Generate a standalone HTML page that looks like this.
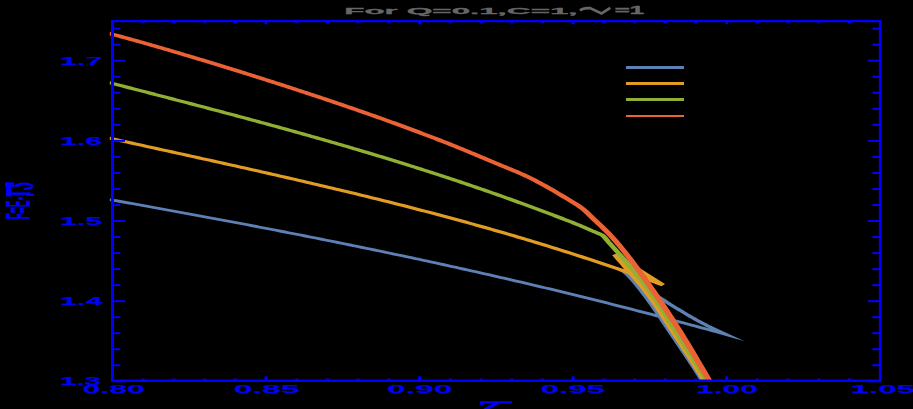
<!DOCTYPE html>
<html><head><meta charset="utf-8"><title>plot</title>
<style>
html,body{margin:0;padding:0;background:#000;}
body{width:913px;height:409px;overflow:hidden;font-family:"Liberation Sans",sans-serif;}
svg{display:block;}
</style></head>
<body>
<svg width="913" height="409" viewBox="0 0 913 409">
<rect width="913" height="409" fill="#000"/>
<defs><clipPath id="cp"><rect x="109.800" y="20" width="775.000" height="361.5"/></clipPath></defs>
<g clip-path="url(#cp)"><g transform="scale(1.780,1)">
<path d="M61.24 199.47 L63.53 200.19 L65.82 200.91 L68.11 201.64 L70.40 202.36 L72.69 203.09 L74.98 203.82 L77.27 204.55 L79.56 205.28 L81.85 206.01 L84.14 206.75 L86.43 207.48 L88.72 208.22 L91.01 208.96 L93.30 209.70 L95.59 210.44 L97.88 211.18 L100.18 211.93 L102.47 212.67 L104.76 213.42 L107.05 214.17 L109.34 214.92 L111.63 215.67 L113.92 216.43 L116.21 217.18 L118.50 217.94 L120.79 218.70 L123.08 219.46 L125.37 220.22 L127.66 220.99 L129.95 221.75 L132.24 222.52 L134.53 223.29 L136.82 224.06 L139.11 224.84 L141.41 225.61 L143.70 226.39 L145.99 227.17 L148.28 227.95 L150.57 228.74 L152.86 229.52 L155.15 230.31 L157.44 231.10 L159.73 231.89 L162.02 232.68 L164.31 233.48 L166.60 234.28 L168.89 235.08 L171.18 235.88 L173.47 236.69 L175.76 237.49 L178.05 238.30 L180.34 239.12 L182.64 239.93 L184.93 240.75 L187.22 241.56 L189.51 242.39 L191.80 243.21 L194.09 244.03 L196.38 244.86 L198.67 245.69 L200.96 246.53 L203.25 247.36 L205.54 248.20 L207.83 249.04 L210.12 249.88 L212.41 250.73 L214.70 251.58 L216.99 252.43 L219.28 253.28 L221.57 254.14 L223.87 255.00 L226.16 255.86 L228.45 256.73 L230.74 257.59 L233.03 258.46 L235.32 259.33 L237.61 260.21 L239.90 261.09 L242.19 261.97 L244.48 262.85 L246.77 263.74 L249.06 264.63 L251.35 265.52 L253.64 266.42 L255.93 267.32 L258.22 268.22 L260.51 269.12 L262.80 270.03 L265.10 270.94 L267.39 271.86 L269.68 272.77 L271.97 273.69 L274.26 274.62 L276.55 275.54 L278.84 276.47 L281.13 277.40 L283.42 278.34 L285.71 279.28 L288.00 280.22 L290.29 281.17 L292.58 282.12 L294.87 283.07 L297.16 284.02 L299.45 284.98 L301.74 285.94 L304.03 286.91 L306.32 287.88 L308.62 288.85 L310.91 289.83 L313.20 290.81 L315.49 291.79 L317.78 292.78 L320.07 293.77 L322.36 294.76 L324.65 295.76 L326.94 296.76 L329.23 297.77 L331.52 298.77 L333.81 299.79 L336.10 300.80 L338.39 301.82 L340.68 302.84 L342.97 303.87 L345.26 304.90 L347.55 305.94 L349.85 306.98 L352.14 308.02 L354.43 309.07 L356.72 310.12 L359.01 311.17 L361.30 312.23 L363.59 313.29 L365.88 314.35 L368.17 315.42 L370.46 316.50 L372.75 317.58 L375.04 318.67 L377.33 319.76 L379.62 320.85 L381.91 321.94 L384.20 323.04 L386.49 324.13 L388.78 325.22 L391.08 326.32 L393.37 327.41 L395.66 328.51 L397.95 329.60 L400.24 330.70 L402.53 331.80 L408.15 334.60 L402.53 330.00 L401.62 329.27 L400.72 328.53 L399.81 327.77 L398.91 327.00 L398.01 326.22 L397.10 325.43 L396.20 324.62 L395.29 323.80 L394.39 322.96 L393.48 322.11 L392.58 321.24 L391.67 320.36 L390.77 319.46 L389.86 318.54 L388.96 317.62 L388.05 316.69 L387.15 315.75 L386.25 314.81 L385.34 313.86 L384.44 312.89 L383.53 311.92 L382.63 310.95 L381.72 309.98 L380.82 309.02 L379.91 308.06 L379.01 307.08 L378.10 306.09 L377.20 305.09 L376.29 304.08 L375.39 303.07 L374.49 302.05 L373.58 301.01 L372.68 299.97 L371.77 298.91 L370.87 297.83 L369.96 296.75 L369.06 295.65 L368.15 294.54 L367.25 293.42 L366.34 292.29 L365.44 291.15 L364.54 289.99 L363.63 288.80 L362.73 287.61 L361.82 286.39 L360.92 285.17 L360.01 283.95 L359.11 282.72 L358.20 281.50 L357.30 280.29 L356.39 279.09 L355.49 277.89 L354.58 276.69 L353.68 275.49 L352.78 274.29 L351.87 273.09 L350.97 271.89 L350.06 270.70 L349.16 269.50 L350.55 271.58 L351.88 273.65 L353.11 275.73 L354.23 277.81 L355.30 279.88 L356.32 281.96 L357.30 284.03 L358.25 286.11 L359.18 288.19 L360.09 290.26 L361.00 292.34 L361.89 294.42 L362.76 296.49 L363.63 298.57 L364.47 300.64 L365.31 302.72 L366.14 304.80 L366.96 306.87 L367.76 308.95 L368.57 311.03 L369.36 313.10 L370.15 315.18 L370.94 317.25 L371.72 319.33 L372.50 321.41 L373.28 323.48 L374.06 325.56 L374.84 327.64 L375.63 329.71 L376.41 331.79 L377.21 333.86 L378.00 335.94 L378.79 338.02 L379.58 340.09 L380.37 342.17 L381.16 344.25 L381.95 346.32 L382.74 348.40 L383.53 350.47 L384.31 352.55 L385.09 354.63 L385.87 356.70 L386.64 358.78 L387.42 360.86 L388.18 362.93 L388.95 365.01 L389.71 367.08 L390.46 369.16 L391.21 371.24 L391.96 373.31 L392.70 375.39 L393.43 377.47 L394.16 379.54 L394.88 381.62 L395.58 383.69 L396.28 385.77 L396.96 387.85 L397.64 389.92 L398.31 392.00" fill="none" stroke="#5E81B5" stroke-width="2.70" stroke-linejoin="miter" stroke-miterlimit="20"/>
<path d="M61.24 138.08 L63.32 138.90 L65.41 139.72 L67.50 140.54 L69.59 141.36 L71.68 142.18 L73.77 143.00 L75.86 143.82 L77.95 144.64 L80.04 145.46 L82.12 146.28 L84.21 147.10 L86.30 147.92 L88.39 148.73 L90.48 149.55 L92.57 150.37 L94.66 151.19 L96.75 152.00 L98.83 152.82 L100.92 153.64 L103.01 154.45 L105.10 155.27 L107.19 156.09 L109.28 156.91 L111.37 157.73 L113.46 158.56 L115.55 159.38 L117.63 160.20 L119.72 161.02 L121.81 161.85 L123.90 162.67 L125.99 163.50 L128.08 164.32 L130.17 165.15 L132.26 165.98 L134.35 166.81 L136.43 167.64 L138.52 168.47 L140.61 169.31 L142.70 170.15 L144.79 170.98 L146.88 171.82 L148.97 172.66 L151.06 173.51 L153.14 174.35 L155.23 175.19 L157.32 176.04 L159.41 176.89 L161.50 177.74 L163.59 178.60 L165.68 179.45 L167.77 180.31 L169.86 181.17 L171.94 182.04 L174.03 182.90 L176.12 183.77 L178.21 184.64 L180.30 185.51 L182.39 186.39 L184.48 187.27 L186.57 188.15 L188.65 189.03 L190.74 189.91 L192.83 190.80 L194.92 191.70 L197.01 192.59 L199.10 193.49 L201.19 194.40 L203.28 195.30 L205.37 196.21 L207.45 197.12 L209.54 198.04 L211.63 198.95 L213.72 199.88 L215.81 200.80 L217.90 201.73 L219.99 202.66 L222.08 203.60 L224.16 204.54 L226.25 205.49 L228.34 206.44 L230.43 207.39 L232.52 208.35 L234.61 209.31 L236.70 210.27 L238.79 211.24 L240.88 212.22 L242.96 213.19 L245.05 214.18 L247.14 215.16 L249.23 216.15 L251.32 217.15 L253.41 218.15 L255.50 219.16 L257.59 220.17 L259.67 221.19 L261.76 222.21 L263.85 223.23 L265.94 224.26 L268.03 225.30 L270.12 226.34 L272.21 227.39 L274.30 228.44 L276.39 229.49 L278.47 230.56 L280.56 231.63 L282.65 232.70 L284.74 233.78 L286.83 234.86 L288.92 235.95 L291.01 237.05 L293.10 238.15 L295.19 239.26 L297.27 240.38 L299.36 241.50 L301.45 242.62 L303.54 243.75 L305.63 244.89 L307.72 246.04 L309.81 247.19 L311.90 248.35 L313.98 249.51 L316.07 250.69 L318.16 251.86 L320.25 253.05 L322.34 254.24 L324.43 255.44 L326.52 256.64 L328.61 257.86 L330.70 259.07 L332.78 260.30 L334.87 261.53 L336.96 262.76 L339.05 264.01 L341.14 265.26 L343.23 266.52 L345.32 267.80 L347.41 269.07 L349.49 270.36 L351.58 271.65 L353.67 272.95 L355.76 274.26 L357.85 275.57 L359.94 276.89 L362.03 278.21 L364.12 279.55 L366.21 280.90 L368.29 282.26 L370.38 283.62 L372.47 284.99 L359.55 270.50 L345.22 254.60 L346.37 256.93 L347.52 259.26 L348.66 261.59 L349.79 263.92 L350.92 266.24 L352.05 268.57 L353.17 270.90 L354.28 273.23 L355.41 275.56 L356.54 277.89 L357.67 280.22 L358.80 282.55 L359.90 284.87 L360.98 287.20 L362.03 289.53 L363.03 291.86 L364.01 294.19 L364.96 296.52 L365.90 298.85 L366.82 301.18 L367.72 303.51 L368.61 305.83 L369.49 308.16 L370.36 310.49 L371.22 312.82 L372.07 315.15 L372.91 317.48 L373.76 319.81 L374.60 322.14 L375.44 324.46 L376.29 326.79 L377.13 329.12 L377.98 331.45 L378.84 333.78 L379.70 336.11 L380.56 338.44 L381.41 340.77 L382.27 343.09 L383.12 345.42 L383.97 347.75 L384.82 350.08 L385.67 352.41 L386.51 354.74 L387.35 357.07 L388.19 359.40 L389.03 361.73 L389.86 364.05 L390.69 366.38 L391.51 368.71 L392.33 371.04 L393.15 373.37 L393.96 375.70 L394.76 378.03 L395.57 380.36 L396.36 382.68 L397.14 385.01 L397.91 387.34 L398.68 389.67 L399.44 392.00" fill="none" stroke="#E19C24" stroke-width="3.00" stroke-linejoin="miter" stroke-miterlimit="4"/>
<path d="M61.24 82.56 L62.37 83.08 L63.51 83.60 L64.64 84.12 L65.78 84.64 L66.91 85.16 L68.05 85.68 L69.19 86.20 L70.32 86.72 L71.46 87.24 L72.59 87.76 L73.73 88.28 L74.87 88.80 L76.00 89.33 L77.14 89.85 L78.27 90.37 L79.41 90.89 L80.54 91.41 L81.68 91.94 L82.82 92.46 L83.95 92.98 L85.09 93.51 L86.22 94.03 L87.36 94.55 L88.50 95.07 L89.63 95.60 L90.77 96.12 L91.90 96.65 L93.04 97.17 L94.17 97.69 L95.31 98.22 L96.45 98.74 L97.58 99.27 L98.72 99.79 L99.85 100.32 L100.99 100.84 L102.13 101.37 L103.26 101.89 L104.40 102.42 L105.53 102.95 L106.67 103.48 L107.80 104.01 L108.94 104.53 L110.08 105.06 L111.21 105.59 L112.35 106.13 L113.48 106.66 L114.62 107.19 L115.75 107.72 L116.89 108.25 L118.03 108.79 L119.16 109.32 L120.30 109.85 L121.43 110.39 L122.57 110.92 L123.71 111.45 L124.84 111.99 L125.98 112.53 L127.11 113.06 L128.25 113.60 L129.38 114.14 L130.52 114.68 L131.66 115.21 L132.79 115.75 L133.93 116.29 L135.06 116.84 L136.20 117.38 L137.34 117.92 L138.47 118.46 L139.61 119.01 L140.74 119.55 L141.88 120.10 L143.01 120.65 L144.15 121.19 L145.29 121.74 L146.42 122.29 L147.56 122.84 L148.69 123.39 L149.83 123.94 L150.96 124.49 L152.10 125.04 L153.24 125.60 L154.37 126.15 L155.51 126.71 L156.64 127.26 L157.78 127.82 L158.92 128.37 L160.05 128.93 L161.19 129.49 L162.32 130.05 L163.46 130.61 L164.59 131.17 L165.73 131.74 L166.87 132.30 L168.00 132.87 L169.14 133.43 L170.27 134.00 L171.41 134.57 L172.55 135.14 L173.68 135.71 L174.82 136.28 L175.95 136.85 L177.09 137.43 L178.22 138.00 L179.36 138.57 L180.50 139.15 L181.63 139.73 L182.77 140.31 L183.90 140.89 L185.04 141.47 L186.17 142.05 L187.31 142.63 L188.45 143.21 L189.58 143.80 L190.72 144.39 L191.85 144.97 L192.99 145.56 L194.13 146.15 L195.26 146.74 L196.40 147.34 L197.53 147.93 L198.67 148.53 L199.80 149.12 L200.94 149.72 L202.08 150.32 L203.21 150.92 L204.35 151.52 L205.48 152.12 L206.62 152.73 L207.76 153.33 L208.89 153.94 L210.03 154.55 L211.16 155.16 L212.30 155.77 L213.43 156.38 L214.57 156.99 L215.71 157.61 L216.84 158.22 L217.98 158.84 L219.11 159.46 L220.25 160.08 L221.38 160.70 L222.52 161.33 L223.66 161.95 L224.79 162.58 L225.93 163.21 L227.06 163.84 L228.20 164.47 L229.34 165.10 L230.47 165.74 L231.61 166.37 L232.74 167.01 L233.88 167.65 L235.01 168.29 L236.15 168.93 L237.29 169.57 L238.42 170.22 L239.56 170.87 L240.69 171.52 L241.83 172.17 L242.97 172.82 L244.10 173.47 L245.24 174.13 L246.37 174.78 L247.51 175.44 L248.64 176.10 L249.78 176.76 L250.92 177.43 L252.05 178.09 L253.19 178.76 L254.32 179.43 L255.46 180.10 L256.60 180.78 L257.73 181.45 L258.87 182.13 L260.00 182.81 L261.14 183.49 L262.27 184.17 L263.41 184.85 L264.55 185.54 L265.68 186.23 L266.82 186.92 L267.95 187.61 L269.09 188.30 L270.22 189.00 L271.36 189.69 L272.50 190.39 L273.63 191.09 L274.77 191.79 L275.90 192.50 L277.04 193.21 L278.18 193.91 L279.31 194.62 L280.45 195.33 L281.58 196.05 L282.72 196.76 L283.85 197.48 L284.99 198.20 L286.13 198.92 L287.26 199.65 L288.40 200.37 L289.53 201.10 L290.67 201.84 L291.81 202.57 L292.94 203.30 L294.08 204.04 L295.21 204.78 L296.35 205.53 L297.48 206.27 L298.62 207.02 L299.76 207.77 L300.89 208.52 L302.03 209.27 L303.16 210.03 L304.30 210.78 L305.43 211.54 L306.57 212.29 L307.71 213.05 L308.84 213.81 L309.98 214.57 L311.11 215.33 L312.25 216.09 L313.39 216.86 L314.52 217.63 L315.66 218.40 L316.79 219.18 L317.93 219.96 L319.06 220.75 L320.20 221.54 L321.34 222.34 L322.47 223.14 L323.61 223.95 L324.74 224.77 L325.88 225.60 L327.02 226.43 L328.15 227.30 L329.29 228.17 L330.42 229.07 L331.56 229.96 L332.69 230.85 L333.83 231.74 L334.97 232.60 L336.10 233.35 L337.24 234.13 L338.37 235.19 L339.51 237.02 L340.64 239.41 L341.78 241.85 L342.92 244.11 L344.05 246.37 L345.19 248.62 L346.32 250.88 L347.46 253.15 L348.60 255.43 L349.73 257.72 L350.87 260.02 L352.00 262.34 L353.14 264.68 L354.27 267.04 L355.41 269.43 L356.55 271.85 L357.68 274.30 L358.82 276.78 L359.95 279.30 L361.09 281.85 L362.23 284.45 L363.36 287.10 L364.50 289.79 L365.63 292.53 L366.77 295.37 L367.90 298.30 L369.04 301.31 L370.18 304.38 L371.31 307.52 L372.45 310.70 L373.58 313.92 L374.72 317.16 L375.85 320.41 L376.99 323.66 L378.13 326.90 L379.26 330.11 L380.40 333.30 L381.53 336.47 L382.67 339.64 L383.81 342.82 L384.94 346.00 L386.08 349.18 L387.21 352.38 L388.35 355.58 L389.48 358.79 L390.62 362.01 L391.76 365.25 L392.89 368.51 L394.03 371.78 L395.16 375.07 L396.30 378.38 L397.44 381.72 L398.57 385.11 L399.71 388.55 L400.84 392.00" fill="none" stroke="#8FB032" stroke-width="3.10" stroke-linejoin="miter" stroke-miterlimit="20"/>
<path d="M61.24 33.31 L62.38 33.86 L63.52 34.41 L64.66 34.97 L65.80 35.52 L66.94 36.07 L68.08 36.63 L69.22 37.19 L70.36 37.75 L71.50 38.31 L72.64 38.87 L73.78 39.44 L74.92 40.00 L76.06 40.57 L77.20 41.14 L78.34 41.71 L79.48 42.28 L80.62 42.85 L81.77 43.43 L82.91 44.01 L84.05 44.58 L85.19 45.16 L86.33 45.74 L87.47 46.33 L88.61 46.91 L89.75 47.50 L90.89 48.09 L92.03 48.67 L93.17 49.26 L94.31 49.86 L95.45 50.45 L96.59 51.04 L97.73 51.64 L98.87 52.24 L100.01 52.84 L101.15 53.44 L102.29 54.04 L103.43 54.64 L104.58 55.24 L105.72 55.85 L106.86 56.45 L108.00 57.06 L109.14 57.67 L110.28 58.27 L111.42 58.88 L112.56 59.49 L113.70 60.11 L114.84 60.72 L115.98 61.33 L117.12 61.95 L118.26 62.56 L119.40 63.18 L120.54 63.80 L121.68 64.42 L122.82 65.04 L123.96 65.66 L125.10 66.29 L126.24 66.91 L127.39 67.54 L128.53 68.17 L129.67 68.79 L130.81 69.42 L131.95 70.05 L133.09 70.68 L134.23 71.32 L135.37 71.95 L136.51 72.58 L137.65 73.22 L138.79 73.86 L139.93 74.49 L141.07 75.13 L142.21 75.77 L143.35 76.41 L144.49 77.05 L145.63 77.69 L146.77 78.34 L147.91 78.98 L149.05 79.62 L150.20 80.27 L151.34 80.92 L152.48 81.57 L153.62 82.22 L154.76 82.87 L155.90 83.52 L157.04 84.17 L158.18 84.83 L159.32 85.48 L160.46 86.14 L161.60 86.79 L162.74 87.45 L163.88 88.11 L165.02 88.77 L166.16 89.44 L167.30 90.10 L168.44 90.76 L169.58 91.43 L170.72 92.10 L171.87 92.76 L173.01 93.43 L174.15 94.10 L175.29 94.77 L176.43 95.45 L177.57 96.12 L178.71 96.79 L179.85 97.47 L180.99 98.15 L182.13 98.82 L183.27 99.50 L184.41 100.18 L185.55 100.87 L186.69 101.55 L187.83 102.24 L188.97 102.92 L190.11 103.61 L191.25 104.30 L192.39 104.99 L193.53 105.69 L194.68 106.38 L195.82 107.08 L196.96 107.78 L198.10 108.47 L199.24 109.18 L200.38 109.88 L201.52 110.58 L202.66 111.29 L203.80 111.99 L204.94 112.70 L206.08 113.41 L207.22 114.12 L208.36 114.83 L209.50 115.55 L210.64 116.26 L211.78 116.98 L212.92 117.70 L214.06 118.42 L215.20 119.14 L216.34 119.87 L217.49 120.60 L218.63 121.32 L219.77 122.06 L220.91 122.79 L222.05 123.53 L223.19 124.27 L224.33 125.01 L225.47 125.75 L226.61 126.49 L227.75 127.24 L228.89 127.99 L230.03 128.74 L231.17 129.49 L232.31 130.25 L233.45 131.00 L234.59 131.76 L235.73 132.52 L236.87 133.29 L238.01 134.05 L239.15 134.82 L240.30 135.59 L241.44 136.36 L242.58 137.14 L243.72 137.92 L244.86 138.70 L246.00 139.48 L247.14 140.27 L248.28 141.06 L249.42 141.85 L250.56 142.65 L251.70 143.45 L252.84 144.25 L253.98 145.06 L255.12 145.87 L256.26 146.69 L257.40 147.51 L258.54 148.34 L259.68 149.17 L260.82 150.00 L261.96 150.84 L263.11 151.68 L264.25 152.52 L265.39 153.37 L266.53 154.22 L267.67 155.07 L268.81 155.92 L269.95 156.77 L271.09 157.63 L272.23 158.48 L273.37 159.34 L274.51 160.19 L275.65 161.05 L276.79 161.90 L277.93 162.75 L279.07 163.61 L280.21 164.46 L281.35 165.31 L282.49 166.14 L283.63 166.98 L284.78 167.80 L285.92 168.63 L287.06 169.45 L288.20 170.28 L289.34 171.12 L290.48 171.98 L291.62 172.85 L292.76 173.73 L293.90 174.64 L295.04 175.58 L296.18 176.54 L297.32 177.53 L298.46 178.54 L299.60 179.57 L300.74 180.62 L301.88 181.68 L303.02 182.76 L304.16 183.86 L305.30 184.96 L306.44 186.08 L307.59 187.21 L308.73 188.34 L309.87 189.48 L311.01 190.66 L312.15 191.86 L313.29 193.08 L314.43 194.30 L315.57 195.53 L316.71 196.74 L317.85 197.95 L318.99 199.17 L320.13 200.39 L321.27 201.63 L322.41 202.89 L323.55 204.19 L324.69 205.48 L325.83 206.82 L326.97 208.25 L328.11 209.85 L329.25 211.65 L330.40 213.59 L331.54 215.60 L332.68 217.61 L333.82 219.55 L334.96 221.45 L336.10 223.34 L337.24 225.23 L338.38 227.15 L339.52 229.11 L340.66 231.13 L341.80 233.19 L342.94 235.29 L344.08 237.45 L345.22 239.68 L346.36 242.01 L347.50 244.40 L348.64 246.85 L349.78 249.34 L350.92 251.88 L352.06 254.47 L353.21 257.09 L354.35 259.75 L355.49 262.45 L356.63 265.18 L357.77 267.94 L358.91 270.72 L360.05 273.53 L361.19 276.36 L362.33 279.21 L363.47 282.07 L364.61 284.94 L365.75 287.82 L366.89 290.71 L368.03 293.61 L369.17 296.55 L370.31 299.52 L371.45 302.51 L372.59 305.54 L373.73 308.60 L374.88 311.69 L376.02 314.80 L377.16 317.93 L378.30 321.09 L379.44 324.27 L380.58 327.47 L381.72 330.68 L382.86 333.92 L384.00 337.20 L385.14 340.51 L386.28 343.86 L387.42 347.24 L388.56 350.65 L389.70 354.07 L390.84 357.52 L391.98 360.97 L393.12 364.43 L394.26 367.90 L395.40 371.36 L396.54 374.82 L397.69 378.26 L398.83 381.69 L399.97 385.12 L401.11 388.56 L402.25 392.00" fill="none" stroke="#EB6235" stroke-width="3.40" stroke-linejoin="miter" stroke-miterlimit="20"/>
</g></g>
<rect x="111" y="20" width="3" height="362" fill="#0000FF"/><rect x="878.9" y="20" width="2.5" height="362" fill="#0000FF"/><rect x="111" y="20" width="770.6" height="2.2" fill="#0000FF"/><rect x="111" y="379.5" width="770.6" height="2.5" fill="#0000FF"/>
<rect x="141.71" y="378.50" width="3" height="2.30" fill="#0000FF"/>
<rect x="141.71" y="21.00" width="3" height="2.30" fill="#0000FF"/>
<rect x="172.42" y="378.50" width="3" height="2.30" fill="#0000FF"/>
<rect x="172.42" y="21.00" width="3" height="2.30" fill="#0000FF"/>
<rect x="203.12" y="378.50" width="3" height="2.30" fill="#0000FF"/>
<rect x="203.12" y="21.00" width="3" height="2.30" fill="#0000FF"/>
<rect x="233.83" y="378.50" width="3" height="2.30" fill="#0000FF"/>
<rect x="233.83" y="21.00" width="3" height="2.30" fill="#0000FF"/>
<rect x="264.54" y="376.30" width="3" height="4.50" fill="#0000FF"/>
<rect x="264.54" y="21.00" width="3" height="3.20" fill="#0000FF"/>
<rect x="295.25" y="378.50" width="3" height="2.30" fill="#0000FF"/>
<rect x="295.25" y="21.00" width="3" height="2.30" fill="#0000FF"/>
<rect x="325.96" y="378.50" width="3" height="2.30" fill="#0000FF"/>
<rect x="325.96" y="21.00" width="3" height="2.30" fill="#0000FF"/>
<rect x="356.66" y="378.50" width="3" height="2.30" fill="#0000FF"/>
<rect x="356.66" y="21.00" width="3" height="2.30" fill="#0000FF"/>
<rect x="387.37" y="378.50" width="3" height="2.30" fill="#0000FF"/>
<rect x="387.37" y="21.00" width="3" height="2.30" fill="#0000FF"/>
<rect x="418.08" y="376.30" width="3" height="4.50" fill="#0000FF"/>
<rect x="418.08" y="21.00" width="3" height="3.20" fill="#0000FF"/>
<rect x="448.79" y="378.50" width="3" height="2.30" fill="#0000FF"/>
<rect x="448.79" y="21.00" width="3" height="2.30" fill="#0000FF"/>
<rect x="479.50" y="378.50" width="3" height="2.30" fill="#0000FF"/>
<rect x="479.50" y="21.00" width="3" height="2.30" fill="#0000FF"/>
<rect x="510.20" y="378.50" width="3" height="2.30" fill="#0000FF"/>
<rect x="510.20" y="21.00" width="3" height="2.30" fill="#0000FF"/>
<rect x="540.91" y="378.50" width="3" height="2.30" fill="#0000FF"/>
<rect x="540.91" y="21.00" width="3" height="2.30" fill="#0000FF"/>
<rect x="571.62" y="376.30" width="3" height="4.50" fill="#0000FF"/>
<rect x="571.62" y="21.00" width="3" height="3.20" fill="#0000FF"/>
<rect x="602.33" y="378.50" width="3" height="2.30" fill="#0000FF"/>
<rect x="602.33" y="21.00" width="3" height="2.30" fill="#0000FF"/>
<rect x="633.04" y="378.50" width="3" height="2.30" fill="#0000FF"/>
<rect x="633.04" y="21.00" width="3" height="2.30" fill="#0000FF"/>
<rect x="663.74" y="378.50" width="3" height="2.30" fill="#0000FF"/>
<rect x="663.74" y="21.00" width="3" height="2.30" fill="#0000FF"/>
<rect x="694.45" y="378.50" width="3" height="2.30" fill="#0000FF"/>
<rect x="694.45" y="21.00" width="3" height="2.30" fill="#0000FF"/>
<rect x="725.16" y="376.30" width="3" height="4.50" fill="#0000FF"/>
<rect x="725.16" y="21.00" width="3" height="3.20" fill="#0000FF"/>
<rect x="755.87" y="378.50" width="3" height="2.30" fill="#0000FF"/>
<rect x="755.87" y="21.00" width="3" height="2.30" fill="#0000FF"/>
<rect x="786.58" y="378.50" width="3" height="2.30" fill="#0000FF"/>
<rect x="786.58" y="21.00" width="3" height="2.30" fill="#0000FF"/>
<rect x="817.28" y="378.50" width="3" height="2.30" fill="#0000FF"/>
<rect x="817.28" y="21.00" width="3" height="2.30" fill="#0000FF"/>
<rect x="847.99" y="378.50" width="3" height="2.30" fill="#0000FF"/>
<rect x="847.99" y="21.00" width="3" height="2.30" fill="#0000FF"/>
<rect x="112.50" y="380.30" width="12.50" height="2" fill="#0000FF"/>
<rect x="867.70" y="380.30" width="12.50" height="2" fill="#0000FF"/>
<rect x="112.50" y="364.27" width="7.80" height="2" fill="#0000FF"/>
<rect x="872.40" y="364.27" width="7.80" height="2" fill="#0000FF"/>
<rect x="112.50" y="348.24" width="7.80" height="2" fill="#0000FF"/>
<rect x="872.40" y="348.24" width="7.80" height="2" fill="#0000FF"/>
<rect x="112.50" y="332.21" width="7.80" height="2" fill="#0000FF"/>
<rect x="872.40" y="332.21" width="7.80" height="2" fill="#0000FF"/>
<rect x="112.50" y="316.18" width="7.80" height="2" fill="#0000FF"/>
<rect x="872.40" y="316.18" width="7.80" height="2" fill="#0000FF"/>
<rect x="112.50" y="300.15" width="12.50" height="2" fill="#0000FF"/>
<rect x="867.70" y="300.15" width="12.50" height="2" fill="#0000FF"/>
<rect x="112.50" y="284.12" width="7.80" height="2" fill="#0000FF"/>
<rect x="872.40" y="284.12" width="7.80" height="2" fill="#0000FF"/>
<rect x="112.50" y="268.09" width="7.80" height="2" fill="#0000FF"/>
<rect x="872.40" y="268.09" width="7.80" height="2" fill="#0000FF"/>
<rect x="112.50" y="252.06" width="7.80" height="2" fill="#0000FF"/>
<rect x="872.40" y="252.06" width="7.80" height="2" fill="#0000FF"/>
<rect x="112.50" y="236.03" width="7.80" height="2" fill="#0000FF"/>
<rect x="872.40" y="236.03" width="7.80" height="2" fill="#0000FF"/>
<rect x="112.50" y="220.00" width="12.50" height="2" fill="#0000FF"/>
<rect x="867.70" y="220.00" width="12.50" height="2" fill="#0000FF"/>
<rect x="112.50" y="203.97" width="7.80" height="2" fill="#0000FF"/>
<rect x="872.40" y="203.97" width="7.80" height="2" fill="#0000FF"/>
<rect x="112.50" y="187.94" width="7.80" height="2" fill="#0000FF"/>
<rect x="872.40" y="187.94" width="7.80" height="2" fill="#0000FF"/>
<rect x="112.50" y="171.91" width="7.80" height="2" fill="#0000FF"/>
<rect x="872.40" y="171.91" width="7.80" height="2" fill="#0000FF"/>
<rect x="112.50" y="155.88" width="7.80" height="2" fill="#0000FF"/>
<rect x="872.40" y="155.88" width="7.80" height="2" fill="#0000FF"/>
<rect x="112.50" y="139.85" width="12.50" height="2" fill="#0000FF"/>
<rect x="867.70" y="139.85" width="12.50" height="2" fill="#0000FF"/>
<rect x="112.50" y="123.82" width="7.80" height="2" fill="#0000FF"/>
<rect x="872.40" y="123.82" width="7.80" height="2" fill="#0000FF"/>
<rect x="112.50" y="107.79" width="7.80" height="2" fill="#0000FF"/>
<rect x="872.40" y="107.79" width="7.80" height="2" fill="#0000FF"/>
<rect x="112.50" y="91.76" width="7.80" height="2" fill="#0000FF"/>
<rect x="872.40" y="91.76" width="7.80" height="2" fill="#0000FF"/>
<rect x="112.50" y="75.73" width="7.80" height="2" fill="#0000FF"/>
<rect x="872.40" y="75.73" width="7.80" height="2" fill="#0000FF"/>
<rect x="112.50" y="59.70" width="12.50" height="2" fill="#0000FF"/>
<rect x="867.70" y="59.70" width="12.50" height="2" fill="#0000FF"/>
<rect x="112.50" y="43.67" width="7.80" height="2" fill="#0000FF"/>
<rect x="872.40" y="43.67" width="7.80" height="2" fill="#0000FF"/>
<rect x="112.50" y="27.64" width="7.80" height="2" fill="#0000FF"/>
<rect x="872.40" y="27.64" width="7.80" height="2" fill="#0000FF"/>
<rect x="626" y="66" width="58" height="3" fill="#5E81B5"/><rect x="626" y="82" width="58" height="3" fill="#E19C24"/><rect x="626" y="98" width="58" height="3" fill="#8FB032"/><rect x="626" y="115" width="58" height="2" fill="#EB6235"/>
<text transform="translate(82.50,393.08) scale(2.773,1)" font-family="Liberation Sans" font-weight="bold" font-size="11.58" fill="#0000FF" stroke="#0000FF" stroke-width="0.15" vector-effect="non-scaling-stroke" >0.80</text>
<text transform="translate(233.75,393.08) scale(2.917,1)" font-family="Liberation Sans" font-weight="bold" font-size="11.58" fill="#0000FF" stroke="#0000FF" stroke-width="0.15" vector-effect="non-scaling-stroke" >0.85</text>
<text transform="translate(387.00,393.08) scale(2.906,1)" font-family="Liberation Sans" font-weight="bold" font-size="11.58" fill="#0000FF" stroke="#0000FF" stroke-width="0.15" vector-effect="non-scaling-stroke" >0.90</text>
<text transform="translate(540.75,393.08) scale(2.851,1)" font-family="Liberation Sans" font-weight="bold" font-size="11.58" fill="#0000FF" stroke="#0000FF" stroke-width="0.15" vector-effect="non-scaling-stroke" >0.95</text>
<text transform="translate(696.00,393.08) scale(2.751,1)" font-family="Liberation Sans" font-weight="bold" font-size="11.58" fill="#0000FF" stroke="#0000FF" stroke-width="0.15" vector-effect="non-scaling-stroke" >1.00</text>
<text transform="translate(850.50,393.08) scale(2.862,1)" font-family="Liberation Sans" font-weight="bold" font-size="11.58" fill="#0000FF" stroke="#0000FF" stroke-width="0.15" vector-effect="non-scaling-stroke" >1.05</text>
<text transform="translate(60.00,385.48) scale(2.752,1)" font-family="Liberation Sans" font-weight="bold" font-size="10.72" fill="#0000FF" stroke="#0000FF" stroke-width="0.15" vector-effect="non-scaling-stroke" >1.3</text>
<text transform="translate(60.00,305.20) scale(2.755,1)" font-family="Liberation Sans" font-weight="bold" font-size="11.05" fill="#0000FF" stroke="#0000FF" stroke-width="0.15" vector-effect="non-scaling-stroke" >1.4</text>
<text transform="translate(60.00,224.89) scale(2.795,1)" font-family="Liberation Sans" font-weight="bold" font-size="10.89" fill="#0000FF" stroke="#0000FF" stroke-width="0.15" vector-effect="non-scaling-stroke" >1.5</text>
<text transform="translate(60.00,144.79) scale(2.835,1)" font-family="Liberation Sans" font-weight="bold" font-size="10.73" fill="#0000FF" stroke="#0000FF" stroke-width="0.15" vector-effect="non-scaling-stroke" >1.6</text>
<text transform="translate(60.00,64.90) scale(2.755,1)" font-family="Liberation Sans" font-weight="bold" font-size="11.05" fill="#0000FF" stroke="#0000FF" stroke-width="0.15" vector-effect="non-scaling-stroke" >1.7</text>
<text transform="translate(344.20,13.71) scale(3.441,1)" font-family="Liberation Sans" font-weight="bold" font-size="9.61" fill="#666666" stroke="#666666" stroke-width="0.70" vector-effect="non-scaling-stroke" >For Q=0.1,C=1,</text>
<text transform="translate(614.80,14.00) scale(2.535,1)" font-family="Liberation Sans" font-weight="bold" font-size="10.17" fill="#666666" stroke="#666666" stroke-width="0.70" vector-effect="non-scaling-stroke" >=1</text>
<path d="M580 10.6 C582.5 8.3 586 7.8 590.5 8.2 L601.5 13.4 L610.3 7.8" fill="none" stroke="#666666" stroke-width="2.7" stroke-linejoin="miter" stroke-miterlimit="2"/>
<path d="M480 402.3 L512 402.3" fill="none" stroke="#0000FF" stroke-width="2.2"/><path d="M498 402.3 L484.5 410" fill="none" stroke="#0000FF" stroke-width="3.2"/><rect x="480" y="401.2" width="4" height="3.6" fill="#0000FF"/>
<text transform="translate(30,219.6) scale(3.47,1.04) rotate(-90)" font-family="Liberation Sans" font-size="10" font-weight="bold" fill="#0000FF">F=E-</text>
<g fill="#0000FF" stroke="none"><rect x="6" y="184" width="5" height="12.4"/><rect x="5" y="182.3" width="9" height="4"/><rect x="10" y="192.4" width="20.5" height="2.5"/><rect x="26" y="193.6" width="8" height="2.4"/><rect x="10" y="185" width="10" height="1.6"/></g>
<path d="M15 185.8 C19 183.6 27 182.6 31.5 185.2 C33.5 187 30 188.8 23.5 188.9" fill="none" stroke="#0000FF" stroke-width="2.3"/>
</svg>
</body></html>
